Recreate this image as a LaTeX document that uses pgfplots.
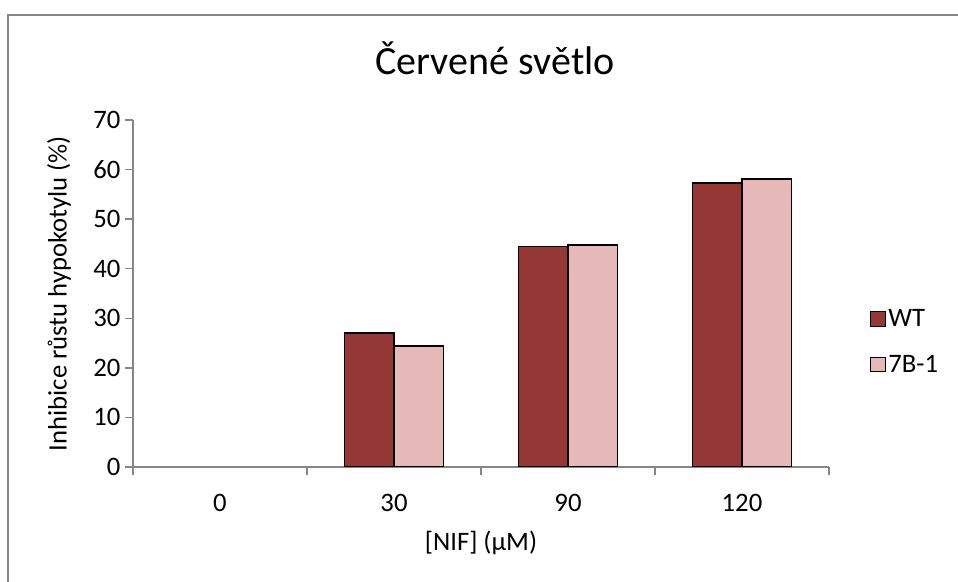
\documentclass[border=0pt]{standalone}
\usepackage{pgfplots}
\pgfplotsset{compat=1.18}
\usepackage{fontspec}
\setmainfont{Carlito}
\definecolor{wtred}{HTML}{953735}
\definecolor{bpink}{HTML}{E6B9B8}
\definecolor{axgrey}{HTML}{868686}
\newcommand{\lblfont}{\fontsize{20}{24}\selectfont}
\begin{document}
\begin{tikzpicture}
\useasboundingbox (0,0) rectangle (718.5pt,436.5pt);
\fill[white] (0,0) rectangle (718.5pt,436.5pt);
\draw[axgrey, line width=1.5pt] (5.625pt,0) -- (5.625pt,425.6pt) -- (718.5pt,425.6pt);
\node[anchor=base, font=\fontsize{30}{36}\selectfont, inner sep=0pt] at (371.25pt,380.25pt) {Červené světlo};
\begin{axis}[
  at={(99.75pt,86.25pt)}, anchor=south west,
  scale only axis, width=522pt, height=260.25pt,
  ybar=0pt, bar width=0.286,
  xmin=-0.5, xmax=3.5, ymin=0, ymax=70,
  ytick={0,10,...,70},
  xtick={0,1,2,3}, xticklabels={0,30,90,120},
  minor xtick={-0.5,0.5,1.5,2.5,3.5},
  axis x line*=bottom, axis y line*=left,
  axis line style={axgrey, line width=1pt},
  tick align=outside, major tick length=6pt, minor tick length=6pt,
  major x tick style={draw=none},
  minor x tick style={axgrey, line width=1pt},
  ytick style={axgrey, line width=1pt},
  /pgf/number format/assume math mode=true,
  tick label style={font=\lblfont, text=black},
  xticklabel style={yshift=-11pt},
  label style={font=\lblfont},
  xlabel={[NIF] (µM)},
  ylabel={Inhibice růstu hypokotylu (\%)},
  xlabel style={at={(axis description cs:0.5,-0.219)}, anchor=center},
  ylabel style={at={(axis description cs:-0.1063,0.5)}, anchor=center},
  legend style={at={(1.059,0.361)}, anchor=west, draw=none, fill=none,
    font=\lblfont, row sep=16pt, inner sep=0pt},
  legend cell align=left,
  legend image code/.code={\draw[#1, line width=0.75pt] (0pt,-5.4pt) rectangle (10.8pt,5.4pt);},
]
\addplot[fill=wtred, draw=black, line width=1pt] coordinates {(1,27.0) (2,44.5) (3,57.3)};
\addplot[fill=bpink, draw=black, line width=1pt] coordinates {(1,24.4) (2,44.8) (3,58.1)};
\legend{WT,7B-1}
\end{axis}
\end{tikzpicture}
\end{document}
